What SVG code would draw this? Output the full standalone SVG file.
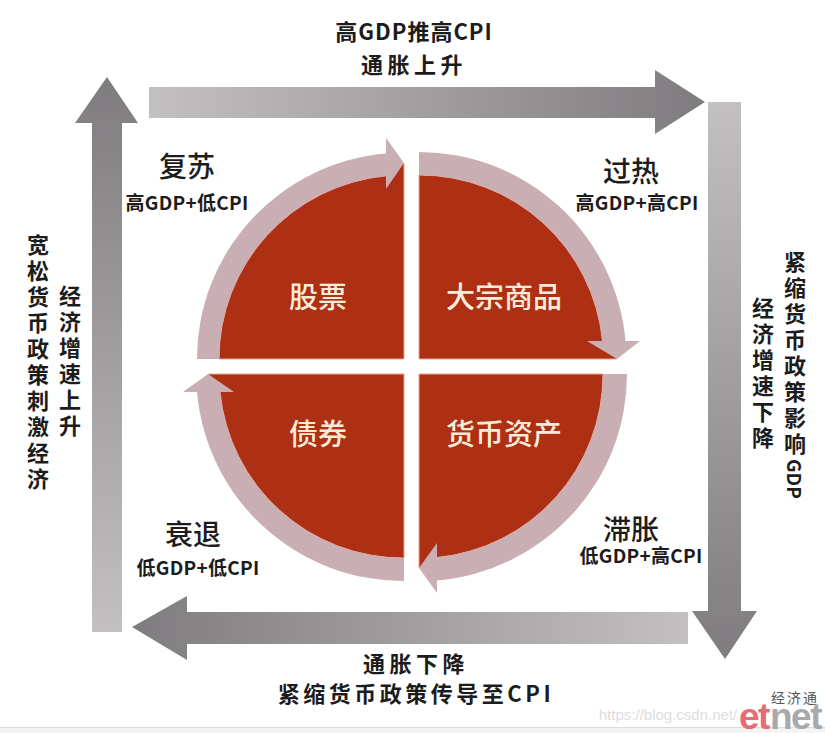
<svg xmlns="http://www.w3.org/2000/svg" width="825" height="733" viewBox="0 0 825 733">
<style>
text{font-family:"Noto Sans CJK SC","Liberation Sans",sans-serif;fill:#1c1c1c;text-anchor:middle}
.h{font-size:28px;font-weight:500}
.s{font-size:19px;font-weight:700;letter-spacing:.3px}
.m{font-size:22px;font-weight:700}
.q{font-size:29px;font-weight:500;fill:#f8ecd8}
.v{font-size:22px;font-weight:700;writing-mode:vertical-rl;text-anchor:start;letter-spacing:4px}
.g{font-size:19px;letter-spacing:0}
.red{fill:#ad2f14;stroke:#eda58f;stroke-width:1}
.band{fill:#c9afb3}
.w{font-family:"Liberation Sans",sans-serif}
.e{font-size:37px;font-weight:700;letter-spacing:-1.5px;text-anchor:start}
</style>
<defs>
<linearGradient id="gr" x1="0" x2="1" y1="0" y2="0"><stop offset="0" stop-color="#c2c0c1"/><stop offset="1" stop-color="#7e7c7e"/></linearGradient>
<linearGradient id="gl" x1="1" x2="0" y1="0" y2="0"><stop offset="0" stop-color="#c2c0c1"/><stop offset="1" stop-color="#7e7c7e"/></linearGradient>
<linearGradient id="gd" x1="0" x2="0" y1="0" y2="1"><stop offset="0" stop-color="#c2c0c1"/><stop offset="1" stop-color="#7e7c7e"/></linearGradient>
<linearGradient id="gu" x1="0" x2="0" y1="1" y2="0"><stop offset="0" stop-color="#c2c0c1"/><stop offset="1" stop-color="#7e7c7e"/></linearGradient>
</defs>
<rect width="825" height="733" fill="#fff"/>
<rect y="727" width="825" height="1.500" fill="#dcdcdc"/>
<rect y="728.500" width="825" height="4.500" fill="#f4f4f4"/>
<g id="connectors">
<path fill="url(#gr)" d="M149 87H655V70L705 102L655 134V118H149Z"/>
<path fill="url(#gd)" d="M708 102H741V611H757L725 659L692 611H708Z"/>
<path fill="url(#gl)" d="M688 612V644H187V660L132 627L187 596V612Z"/>
<path fill="url(#gu)" d="M92 632V123H75L107 77L138 123H122V632Z"/>
</g>
<g id="node-tl">
<path class="red" d="M404 359H219A185 184 0 0 1 386 175.800L404 163Z"/>
<path class="band" d="M197 359A207 206 0 0 1 386 153.500V138L404 163L386 189V175.800A185 184 0 0 0 219 359Z"/>
<text class="q" x="318" y="308">股票</text>
</g>
<g id="node-tr">
<path class="red" d="M419 175A184 184 0 0 1 602.500 341L617 359H419Z"/>
<path class="band" d="M419 152A207 207 0 0 1 625.500 341H640L617 359L587 341H602.500A184 184 0 0 0 419 175Z"/>
<text class="q" x="504" y="308">大宗商品</text>
</g>
<g id="node-br">
<path class="red" d="M419 374H603A184 184 0 0 1 437 557.500L419 568Z"/>
<path class="band" d="M627 374A208 207 0 0 1 437 580.500V593L419 568L437 543V557.500A184 184 0 0 0 603 374Z"/>
<text class="q" x="504" y="445">货币资产</text>
</g>
<g id="node-bl">
<path class="red" d="M404 374V558A184 184 0 0 1 220 392L208 374Z"/>
<path class="band" d="M404 581A207 207 0 0 1 197 392H183L208 374L234 392H220A184 184 0 0 0 404 558Z"/>
<text class="q" x="318" y="445">债券</text>
</g>
<g id="labels">
<text class="m" x="414" y="40" style="letter-spacing:1px">高GDP推高CPI</text>
<text class="m" x="414" y="73" style="letter-spacing:4.500px">通胀上升</text>
<text class="h" x="187" y="177">复苏</text>
<text class="s" x="187" y="210">高GDP+低CPI</text>
<text class="h" x="631" y="182">过热</text>
<text class="s" x="637" y="210">高GDP+高CPI</text>
<text class="h" x="631" y="540">滞胀</text>
<text class="s" x="641" y="563">低GDP+高CPI</text>
<text class="h" x="193" y="545">衰退</text>
<text class="s" x="198" y="575">低GDP+低CPI</text>
<text class="m" x="416" y="672" style="letter-spacing:4.500px">通胀下降</text>
<text class="m" x="416" y="702" style="letter-spacing:3.500px">紧缩货币政策传导至CPI</text>
<text class="v" x="38" y="234">宽松货币政策刺激经济</text>
<text class="v" x="70" y="285">经济增速上升</text>
<text class="v" x="795" y="251">紧缩货币政策影响<tspan class="g">GDP</tspan></text>
<text class="v" x="763" y="297">经济增速下降</text>
</g>
<g id="watermark">
<text class="w" x="668" y="720" style="font-size:15px;fill:#dddddd">https://blog.csdn.net/</text>
<text x="795" y="703" style="font-size:14px;fill:#555;letter-spacing:2px">经济通</text>
<text class="w e" x="739" y="729" style="fill:#e86a75">et</text>
<text class="w e" x="770" y="729" style="fill:#a9a9ab">net</text>
</g>
</svg>
